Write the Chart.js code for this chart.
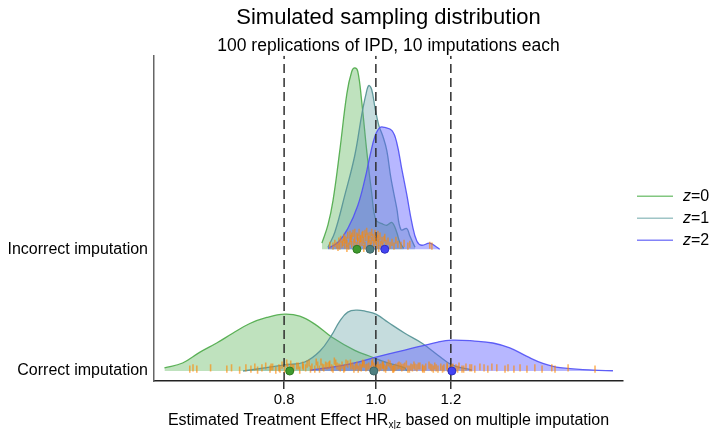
<!DOCTYPE html>
<html><head><meta charset="utf-8">
<script src="https://cdn.jsdelivr.net/npm/chart.js@4/dist/chart.umd.min.js"></script>
<style>html,body{margin:0;padding:0;background:#fff;}canvas{display:block;}</style>
</head><body>
<canvas id="c" width="710" height="429"></canvas>
<script>
// ---- data ----
const categories = ['Correct imputation', 'Incorrect imputation'];
const seriesNames = ['z=0', 'z=1', 'z=2'];
const tickValues = [0.8, 1.0, 1.2];
const titleText = 'Simulated sampling distribution';
const subtitleText = '100 replications of IPD, 10 imputations each';
const xTitleMain = 'Estimated Treatment Effect HR';
const xTitleSub = 'x|z';
const xTitleTail = ' based on multiple imputation';

// density ridges: HR values and ridge heights (in ridge units)
const corrZ0X = [0.598,0.625,0.652,0.679,0.706,0.736,0.767,0.801,0.831,0.862,0.898,0.950,0.990,1.030,1.073,1.078];
const corrZ0H = [0.025,0.066,0.155,0.23,0.31,0.39,0.44,0.467,0.45,0.385,0.28,0.17,0.115,0.066,0.025,0.0];
const corrZ1X = [0.724,0.763,0.801,0.841,0.873,0.898,0.916,0.934,0.955,0.976,1.0,1.030,1.073,1.118,1.163,1.203,1.263];
const corrZ1H = [0.0,0.025,0.05,0.074,0.164,0.295,0.41,0.484,0.5,0.49,0.467,0.40,0.31,0.23,0.13,0.05,0.008];
const corrZ2X = [0.852,0.894,0.950,1.010,1.073,1.163,1.203,1.272,1.329,1.385,1.444,1.501,1.565,1.696,1.780];
const corrZ2H = [0.008,0.029,0.066,0.123,0.172,0.238,0.254,0.246,0.23,0.19,0.12,0.063,0.027,0.008,0.002];

const incZ0X = [0.877,0.890,0.901,0.916,0.932,0.943,0.950,0.957,0.966,0.978,0.990,1.000,1.015,1.027,1.040,1.052,1.060,1.070];
const incZ0H = [0.05,0.20,0.40,0.81,1.28,1.46,1.49,1.46,1.22,0.81,0.46,0.24,0.21,0.197,0.22,0.14,0.057,0.008];
const incZ1X = [0.890,0.905,0.927,0.950,0.966,0.976,0.983,0.990,0.998,1.007,1.017,1.027,1.037,1.052,1.063,1.078,1.086,1.100];
const incZ1H = [0.016,0.14,0.44,0.77,1.10,1.27,1.344,1.31,1.16,1.02,0.93,0.81,0.59,0.34,0.16,0.17,0.11,0.016];
const incZ2X = [0.890,0.912,0.934,0.957,0.974,0.986,0.998,1.010,1.022,1.040,1.052,1.065,1.078,1.092,1.105,1.118,1.140,1.160,1.168];
const incZ2H = [0.008,0.057,0.17,0.36,0.58,0.77,0.93,1.0,1.0,0.975,0.877,0.66,0.45,0.21,0.066,0.033,0.05,0.016,0.0];

// means (dots on the baseline)
const corrMeans = [0.811, 0.995, 1.203];
const incMeans = [0.955, 0.986, 1.022];

// rug of individual estimates: HR value and vertical jitter
const corrRugX = [0.636,0.641,0.647,0.669,0.696,0.704,0.718,0.729,0.738,0.745,0.750,0.758,0.765,0.773,0.778,0.784,0.790,0.796,0.801,0.807,0.813,0.819,0.825,0.831,0.837,0.843,0.850,0.856,0.862,0.868,0.875,0.881,0.888,0.894,0.901,0.907,0.914,0.921,0.927,0.934,0.941,0.948,0.955,0.962,0.969,0.976,0.983,0.990,0.998,1.005,1.012,1.020,1.027,1.035,1.042,1.050,1.058,1.065,1.073,1.081,1.089,1.097,1.105,1.113,1.121,1.129,1.138,1.146,1.154,1.163,1.171,1.180,1.189,1.197,1.206,1.215,1.224,1.233,1.245,1.257,1.272,1.288,1.301,1.313,1.326,1.342,1.369,1.379,1.399,1.420,1.444,1.472,1.498,1.534,1.546,1.596,1.704,
  0.838,0.872,0.885,0.898,0.910,0.925,0.940,0.952,0.965,0.972,0.987,0.995,1.002,1.016,1.024,1.038,1.046,1.062,1.085,1.100,1.120,1.150,1.190,1.220,
  0.775,0.792,0.805,0.816,0.828,0.846,0.853,0.865,0.878,0.892,0.904,0.917,0.930,0.945,0.958,0.968,0.979,0.992,1.008,1.018,1.031,1.044,1.055,1.069,1.077,1.093,1.109,1.125,1.142,1.158,1.176,1.202,1.238,1.262];
const corrRugY = [0.016,0.025,0.016,0.025,0.016,0.025,0.008,0.025,0.016,0.033,0.008,0.025,0.041,0.016,0.033,0.008,0.025,0.049,0.016,0.033,0.057,0.025,0.041,0.008,0.049,0.025,0.066,0.033,0.016,0.049,0.074,0.025,0.041,0.057,0.016,0.066,0.033,0.049,0.025,0.057,0.041,0.016,0.049,0.033,0.066,0.025,0.041,0.057,0.016,0.049,0.033,0.025,0.041,0.057,0.016,0.033,0.049,0.025,0.041,0.016,0.033,0.049,0.025,0.041,0.016,0.033,0.049,0.025,0.041,0.016,0.033,0.025,0.041,0.016,0.033,0.025,0.041,0.016,0.033,0.025,0.016,0.033,0.025,0.016,0.033,0.025,0.016,0.025,0.016,0.025,0.016,0.025,0.016,0.025,0.016,0.025,0.016,
  0.033,0.016,0.049,0.025,0.041,0.016,0.066,0.033,0.025,0.057,0.016,0.041,0.025,0.049,0.016,0.033,0.025,0.041,0.016,0.033,0.025,0.016,0.025,0.016,
  0.033,0.016,0.066,0.025,0.041,0.057,0.016,0.074,0.033,0.049,0.082,0.025,0.066,0.041,0.016,0.057,0.033,0.074,0.025,0.049,0.066,0.016,0.041,0.033,0.057,0.025,0.041,0.016,0.033,0.025,0.016,0.025,0.016,0.025];
const incRugX = [0.894,0.901,0.905,0.909,0.914,0.916,0.918,0.921,0.923,0.925,0.927,0.930,0.932,0.934,0.936,0.939,0.941,0.943,0.946,0.948,0.950,0.953,0.955,0.957,0.960,0.962,0.964,0.967,0.969,0.971,0.974,0.976,0.978,0.981,0.983,0.986,0.988,0.990,0.993,0.995,0.998,1.000,1.002,1.005,1.007,1.010,1.012,1.015,1.017,1.020,1.025,1.030,1.035,1.040,1.045,1.050,1.055,1.063,1.071,1.081,1.086,1.140,1.146,
  0.927,0.939,0.950,0.957,0.967,0.974,0.981,0.986,0.990,0.998,1.005,0.962,0.943,1.022,0.912,0.932,0.953,0.971,0.988,1.007];
const incRugY = [0.033,0.025,0.049,0.033,0.066,0.025,0.082,0.041,0.057,0.098,0.033,0.074,0.049,0.115,0.025,0.066,0.090,0.041,0.131,0.057,0.082,0.033,0.107,0.066,0.139,0.041,0.090,0.057,0.123,0.074,0.033,0.098,0.148,0.049,0.082,0.115,0.025,0.074,0.098,0.049,0.131,0.066,0.033,0.090,0.057,0.107,0.041,0.074,0.025,0.082,0.049,0.066,0.033,0.057,0.025,0.074,0.041,0.033,0.049,0.025,0.041,0.033,0.025,
  0.082,0.123,0.139,0.098,0.115,0.131,0.107,0.049,0.139,0.082,0.123,0.082,0.107,0.098,0.016,0.008,0.0,0.008,0.0,0.008];

// ---- styling ----
const FONT = '"Liberation Sans", Arial, Helvetica, sans-serif';
Chart.defaults.font.family = FONT;
Chart.defaults.color = '#000';
const lineCols = ['rgba(77,170,72,0.9)', 'rgba(90,150,152,0.95)', 'rgba(80,80,245,0.9)'];
const fillCols = ['rgba(77,175,74,0.36)', 'rgba(95,158,160,0.36)', 'rgba(90,90,255,0.44)'];
const legendCols = ['rgba(77,175,74,0.7)', 'rgba(95,158,160,0.6)', 'rgba(90,90,245,0.75)'];
const dotFill = ['#3f9a2e', '#4f7f80', '#4444f2'];
const dotEdge = ['#2f7a20', '#3d6768', '#2f2fc0'];
const Y_MIN = -0.082, Y_MAX = 2.59;

function ridge(xs, hs, base, i) {
  return {
    label: seriesNames[i], showLine: true,
    data: xs.map((x, k) => ({x: x, y: base + hs[k]})),
    borderColor: lineCols[i], backgroundColor: fillCols[i], borderWidth: 1.3,
    fill: {value: base}, pointRadius: 0, tension: 0.4,
    order: 10 - i
  };
}
function rug(xs, ys, base) {
  return {
    label: 'rug', showLine: false,
    data: xs.map((x, k) => ({x: x, y: base + ys[k]})),
    pointStyle: 'line', rotation: 90, pointRadius: 3.6,
    pointBorderColor: 'rgba(255,135,0,0.62)', pointBorderWidth: 1.6,
    order: 3
  };
}
function means(xs, base) {
  return {
    label: 'means', showLine: false,
    data: xs.map(x => ({x: x, y: base})),
    pointStyle: 'circle', pointRadius: 4, pointBorderWidth: 1,
    pointBackgroundColor: dotFill, pointBorderColor: dotEdge,
    order: 1
  };
}
function vline(v) {
  return {
    label: 'ref', showLine: true,
    data: [{x: v, y: Y_MIN}, {x: v, y: Y_MAX}],
    borderColor: '#2e2e2e', borderWidth: 1.5, borderDash: [9, 5],
    pointRadius: 0, fill: false, order: 4
  };
}

const datasets = [
  ridge(corrZ0X, corrZ0H, 0, 0), ridge(corrZ1X, corrZ1H, 0, 1), ridge(corrZ2X, corrZ2H, 0, 2),
  ridge(incZ0X, incZ0H, 1, 0), ridge(incZ1X, incZ1H, 1, 1), ridge(incZ2X, incZ2H, 1, 2),
  ...tickValues.map(vline),
  rug(corrRugX, corrRugY, 0), rug(incRugX, incRugY, 1),
  means(corrMeans, 0), means(incMeans, 1)
];

const customText = {
  id: 'customText',
  afterDraw(chart) {
    const ctx = chart.ctx, a = chart.chartArea;
    ctx.save();
    const f = '16px ' + FONT, fs = '10px ' + FONT, fi = 'italic 16px ' + FONT;
    ctx.fillStyle = '#000'; ctx.textAlign = 'left'; ctx.textBaseline = 'alphabetic';
    ctx.font = f;
    const w1 = ctx.measureText(xTitleMain).width, w3 = ctx.measureText(xTitleTail).width;
    ctx.font = fs;
    const w2 = ctx.measureText(xTitleSub).width;
    let x = (a.left + a.right) / 2 - (w1 + w2 + w3) / 2;
    const yb = 425;
    ctx.font = f; ctx.fillText(xTitleMain, x, yb); x += w1;
    ctx.font = fs; ctx.fillText(xTitleSub, x, yb + 3); x += w2;
    ctx.font = f; ctx.fillText(xTitleTail, x, yb);
    // legend
    const midY = (a.top + a.bottom) / 2;
    seriesNames.forEach((name, i) => {
      const y = midY + (i - 1) * 22;
      ctx.strokeStyle = legendCols[i]; ctx.lineWidth = 1.5;
      ctx.beginPath(); ctx.moveTo(a.right + 14, y); ctx.lineTo(a.right + 50, y); ctx.stroke();
      ctx.textBaseline = 'middle';
      const parts = name.split('=');
      let tx = a.right + 60;
      ctx.font = fi; ctx.fillText(parts[0], tx, y); tx += ctx.measureText(parts[0]).width;
      ctx.font = f; ctx.fillText('=' + parts[1], tx, y);
    });
    ctx.restore();
  }
};

new Chart(document.getElementById('c'), {
  type: 'scatter',
  data: {datasets: datasets},
  plugins: [customText],
  options: {
    responsive: false, devicePixelRatio: 1, animation: false, events: [],
    layout: {padding: {left: 0, right: 87, top: 0, bottom: 0}},
    plugins: {
      legend: {display: false}, tooltip: {enabled: false},
      title: {display: true, text: titleText, fullSize: false, color: '#000',
        font: {size: 22, weight: 'normal'}, padding: {top: 5, bottom: 0}},
      subtitle: {display: true, text: subtitleText, fullSize: false, color: '#000',
        font: {size: 17.5, weight: 'normal', lineHeight: 1.1}, padding: {top: 5, bottom: 0}}
    },
    scales: {
      x: {
        type: 'logarithmic', min: 0.583, max: 1.824,
        afterBuildTicks: s => { s.ticks = tickValues.map(v => ({value: v})); },
        afterFit: s => { s.height = 48; },
        ticks: {callback: v => Number(v).toFixed(1), font: {size: 15}, color: '#000', padding: 2, autoSkip: false, maxRotation: 0},
        grid: {drawOnChartArea: false, drawTicks: true, tickLength: 8, color: '#333', lineWidth: 1.5},
        border: {display: true, color: '#222', width: 1.5}
      },
      y: {
        type: 'linear', min: Y_MIN, max: Y_MAX,
        afterBuildTicks: s => { s.ticks = [{value: 0}, {value: 1}]; },
        afterFit: s => { s.width = 154; },
        ticks: {callback: v => categories[Math.round(v)], font: {size: 16}, color: '#000', padding: 6, autoSkip: false},
        grid: {display: false, drawTicks: false},
        border: {display: true, color: '#666', width: 1.5}
      }
    }
  }
});
</script>
</body></html>
